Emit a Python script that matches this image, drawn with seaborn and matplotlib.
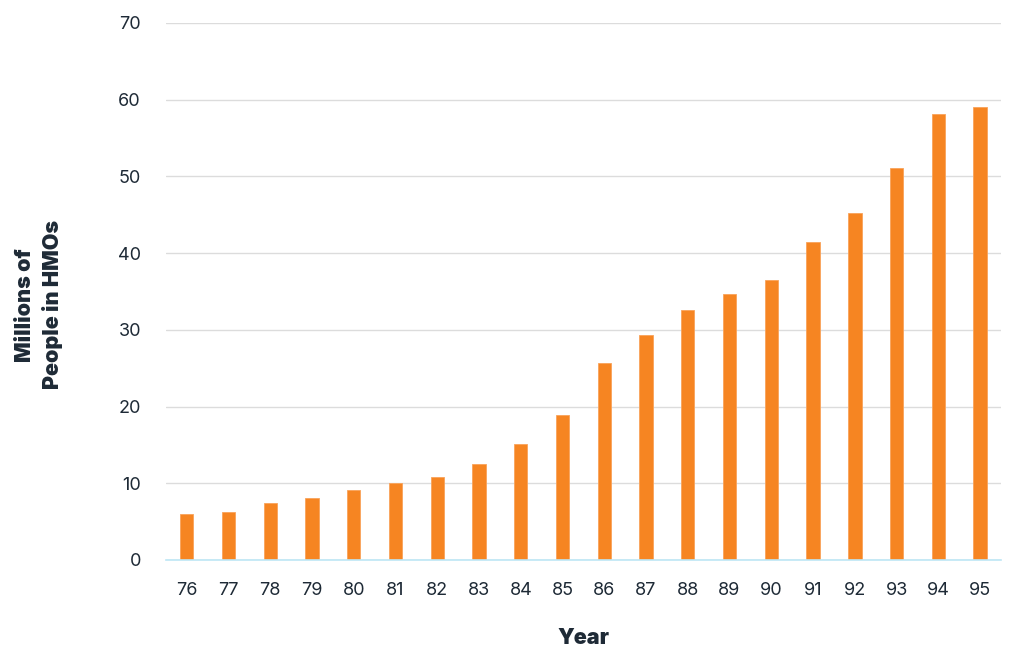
import matplotlib
matplotlib.use("Agg")
import matplotlib.pyplot as plt
import seaborn as sns
import pandas as pd

years = ["76", "77", "78", "79", "80", "81", "82", "83", "84", "85",
         "86", "87", "88", "89", "90", "91", "92", "93", "94", "95"]
millions = [6.0, 6.3, 7.4, 8.1, 9.1, 10.1, 10.8, 12.5, 15.1, 18.9,
            25.7, 29.3, 32.6, 34.7, 36.5, 41.4, 45.2, 51.1, 58.2, 59.1]
y_ticks = [0, 10, 20, 30, 40, 50, 60, 70]

sns.set_theme(style="white")
plt.rcParams['font.family'] = ['Inter', 'DejaVu Sans']

df = pd.DataFrame({"Year": years, "Millions": millions})

fig = plt.figure(figsize=(10.24, 6.68), dpi=100)
ax = fig.add_axes([0.162, 0.1617, 0.8155, 0.8039])

sns.barplot(data=df, x="Year", y="Millions", color="#F68522", width=0.32,
            edgecolor="#F9A35A", linewidth=0.6, saturation=1, ax=ax, zorder=3)

ax.set_ylim(0, 70)
ax.set_xlim(-0.5, len(years) - 0.5)
ax.set_yticks(y_ticks)
ax.yaxis.grid(True, color="#DCDCDC", linewidth=1.0, zorder=0)
ax.set_axisbelow(True)
for s in ["top", "right", "left"]:
    ax.spines[s].set_visible(False)
ax.spines["bottom"].set_color("#BDE6F5")
ax.spines["bottom"].set_linewidth(1.2)
ax.spines["bottom"].set_zorder(4)

ax.tick_params(axis="both", length=0, labelsize=13, labelcolor="#1E2A36")
ax.tick_params(axis="y", pad=18)
ax.tick_params(axis="x", pad=16)

ax.set_xlabel("Year", fontsize=15.5, fontweight="black", color="#1E2A36")
ax.set_ylabel("Millions of\nPeople in HMOs", fontsize=15.5, fontweight="black",
              color="#1E2A36", linespacing=1.4)
ax.xaxis.set_label_coords(0.5, -0.127)
ax.yaxis.set_label_coords(-0.123, 0.475)

fig.savefig("out.png", dpi=100)
